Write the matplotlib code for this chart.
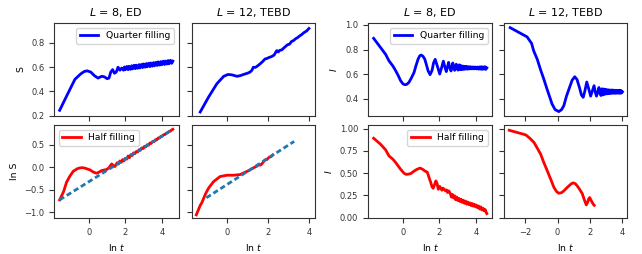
import matplotlib
matplotlib.use("Agg")
import matplotlib.pyplot as plt

# ---------------- data ----------------
# Panel A: S, quarter filling, L=8 ED
a_x = [-1.61, -1.2, -0.77, -0.45, -0.25, -0.1, 0.1, 0.3, 0.5, 0.7, 0.85, 1.0, 1.1, 1.2, 1.3, 1.4, 1.5, 1.6, 1.7,
       1.8, 1.9, 1.95, 2.0, 2.08, 2.15, 2.2, 2.28, 2.35, 2.4, 2.48, 2.55, 2.6, 2.68, 2.75, 2.8, 2.88, 2.95, 3.0,
       3.08, 3.15, 3.2, 3.28, 3.35, 3.4, 3.48, 3.55, 3.6, 3.68, 3.75, 3.8, 3.88, 3.95, 4.0, 4.08, 4.15, 4.2, 4.28,
       4.35, 4.4, 4.48, 4.55, 4.61]
a_y = [0.244, 0.37, 0.50, 0.545, 0.565, 0.57, 0.56, 0.53, 0.51, 0.525, 0.52, 0.505, 0.51, 0.56, 0.58, 0.55, 0.56, 0.60, 0.575,
       0.593, 0.575, 0.602, 0.579, 0.606, 0.58, 0.608, 0.582, 0.612, 0.586, 0.616, 0.588, 0.617, 0.591, 0.621, 0.594, 0.623, 0.597, 0.627,
       0.60, 0.63, 0.603, 0.633, 0.605, 0.635, 0.608, 0.638, 0.611, 0.64, 0.614, 0.644, 0.617, 0.646, 0.62, 0.65, 0.622, 0.651, 0.626,
       0.655, 0.628, 0.657, 0.632, 0.65]

# Panel B: S, quarter filling, L=12 TEBD
b_x = [-1.3, -0.89, -0.49, -0.16, 0.05, 0.24, 0.49, 0.65, 0.81, 1.0, 1.13, 1.22, 1.29, 1.38, 1.46, 1.6, 1.75, 1.86, 1.95,
       2.05, 2.18, 2.3, 2.43, 2.5, 2.58, 2.67, 2.75, 2.85, 2.95, 3.05, 3.16, 3.25, 3.35, 3.45, 3.56, 3.65, 3.75, 3.85, 3.92, 4.0]
b_y = [0.23, 0.354, 0.463, 0.524, 0.54, 0.537, 0.525, 0.53, 0.54, 0.55, 0.56, 0.575, 0.60, 0.598, 0.606, 0.625, 0.648, 0.668, 0.672,
       0.68, 0.688, 0.70, 0.737, 0.725, 0.74, 0.742, 0.755, 0.77, 0.785, 0.79, 0.814, 0.82, 0.835, 0.845, 0.86, 0.87, 0.885, 0.895, 0.905, 0.92]

# Panel C: ln S, half filling, L=8 ED
c_x = [-1.61, -1.4, -1.23, -1.05, -0.86, -0.65, -0.5, -0.35, -0.22, 0.06, 0.25, 0.42, 0.55, 0.7, 0.85, 0.97, 1.1, 1.25, 1.35, 1.43,
       1.55, 1.62, 1.7, 1.78, 1.85, 1.92, 2.0, 2.08, 2.15, 2.22, 2.3, 2.38, 2.45, 2.52, 2.6, 2.68, 2.75, 2.82, 2.9, 2.98,
       3.05, 3.12, 3.2, 3.28, 3.35, 3.42, 3.5, 3.58, 3.65, 3.72, 3.8, 3.88, 3.95, 4.02, 4.1, 4.18, 4.25, 4.32, 4.4, 4.48, 4.55, 4.61]
c_y = [-0.727, -0.55, -0.333, -0.2, -0.089, -0.035, -0.015, -0.01, -0.02, -0.06, -0.11, -0.133, -0.11, -0.074, -0.06, -0.052, -0.01, 0.074, 0.03, 0.016,
       0.10, 0.07, 0.14, 0.11, 0.17, 0.14, 0.2, 0.18, 0.25, 0.21, 0.28, 0.26, 0.32, 0.3, 0.35, 0.34, 0.39, 0.375, 0.43, 0.415,
       0.465, 0.45, 0.5, 0.49, 0.54, 0.53, 0.575, 0.57, 0.612, 0.607, 0.65, 0.65, 0.686, 0.688, 0.723, 0.728, 0.76, 0.765, 0.797, 0.805, 0.832, 0.845]
c_fit_x = [-1.61, 4.61]
c_fit_y = [-0.727, 0.843]

# Panel D: ln S, half filling, L=12 TEBD
d_x = [-1.49, -1.3, -1.21, -1.05, -0.9, -0.65, -0.33, 0.0, 0.32, 0.65, 0.89, 1.05, 1.21, 1.35, 1.46, 1.55, 1.62, 1.7, 1.78,
       1.86, 1.95, 2.05, 2.15, 2.23]
d_y = [-1.06, -0.85, -0.78, -0.6, -0.47, -0.32, -0.207, -0.178, -0.178, -0.163, -0.111, -0.08, -0.037, 0.0, 0.022, 0.06, 0.045, 0.07, 0.12,
       0.163, 0.17, 0.22, 0.235, 0.274]
d_fit_x = [-1.0, 3.28]
d_fit_y = [-0.68, 0.575]

# Panel E: I, quarter filling, L=8 ED
e_x = [-1.61, -1.23, -0.95, -0.77, -0.55, -0.40, -0.25, -0.13, 0.0, 0.1, 0.2, 0.33, 0.47, 0.61, 0.72, 0.83, 0.92, 1.0, 1.1, 1.2,
       1.3, 1.38, 1.49, 1.6, 1.68, 1.77, 1.9, 2.02, 2.12, 2.22, 2.3, 2.38, 2.45, 2.51, 2.58, 2.64, 2.69, 2.74, 2.79, 2.84, 2.89,
       2.93, 2.98, 3.02, 3.06, 3.1, 3.15, 3.2, 3.25, 3.3, 3.35, 3.4, 3.45, 3.5, 3.55, 3.6, 3.65, 3.7, 3.75, 3.8, 3.85, 3.9,
       3.95, 4.0, 4.05, 4.1, 4.15, 4.2, 4.25, 4.3, 4.35, 4.4, 4.45, 4.5, 4.55, 4.61]
e_y = [0.891, 0.816, 0.76, 0.708, 0.665, 0.627, 0.585, 0.546, 0.52, 0.513, 0.515, 0.532, 0.57, 0.613, 0.67, 0.721, 0.748, 0.755, 0.745, 0.721,
       0.67, 0.627, 0.595, 0.63, 0.69, 0.72, 0.66, 0.60, 0.65, 0.705, 0.66, 0.62, 0.66, 0.695, 0.65, 0.625, 0.655, 0.69, 0.655, 0.63, 0.66,
       0.68, 0.65, 0.632, 0.66, 0.675, 0.635, 0.668, 0.637, 0.665, 0.638, 0.663, 0.64, 0.662, 0.64, 0.66, 0.641, 0.66, 0.642, 0.658, 0.642, 0.658,
       0.642, 0.657, 0.642, 0.657, 0.64, 0.658, 0.64, 0.66, 0.638, 0.658, 0.64, 0.66, 0.638, 0.65]

# Panel F: I, quarter filling, L=12 TEBD
f_x = [-2.92, -1.88, -1.6, -1.47, -1.25, -1.06, -0.85, -0.65, -0.45, -0.34, -0.15, 0.08, 0.25, 0.39, 0.55, 0.74, 0.9, 1.06, 1.2,
       1.35, 1.47, 1.58, 1.68, 1.8, 1.92, 2.04, 2.14, 2.25, 2.33, 2.4, 2.47, 2.55, 2.62, 2.68, 2.74, 2.8, 2.86, 2.92, 2.98, 3.04,
       3.1, 3.15, 3.2, 3.25, 3.3, 3.35, 3.4, 3.45, 3.5, 3.55, 3.6, 3.65, 3.7, 3.75, 3.8, 3.85, 3.9, 3.95, 4.0]
f_y = [0.978, 0.903, 0.85, 0.789, 0.72, 0.64, 0.56, 0.478, 0.40, 0.356, 0.31, 0.294, 0.31, 0.343, 0.42, 0.491, 0.55, 0.578, 0.555,
       0.49, 0.43, 0.41, 0.46, 0.535, 0.48, 0.42, 0.46, 0.505, 0.45, 0.42, 0.45, 0.49, 0.44, 0.425, 0.48, 0.43, 0.478, 0.435, 0.475, 0.438,
       0.472, 0.44, 0.47, 0.442, 0.47, 0.443, 0.47, 0.444, 0.468, 0.443, 0.468, 0.444, 0.467, 0.444, 0.468, 0.443, 0.467, 0.445, 0.455]

# Panel G: I, half filling, L=8 ED
g_x = [-1.61, -1.23, -0.95, -0.77, -0.55, -0.40, -0.13, 0.05, 0.17, 0.3, 0.43, 0.6, 0.75, 0.94, 1.1, 1.2, 1.34, 1.45, 1.53, 1.6,
       1.66, 1.72, 1.81, 1.88, 1.94, 2.02, 2.08, 2.14, 2.2, 2.27, 2.33, 2.4, 2.45, 2.52, 2.6, 2.66, 2.72, 2.78, 2.84, 2.9, 2.96,
       3.02, 3.08, 3.14, 3.2, 3.26, 3.32, 3.38, 3.44, 3.5, 3.56, 3.62, 3.68, 3.74, 3.8, 3.86, 3.92, 3.98, 4.04, 4.1, 4.16, 4.22,
       4.28, 4.34, 4.4, 4.46, 4.52, 4.57, 4.61]
g_y = [0.891, 0.824, 0.76, 0.693, 0.655, 0.618, 0.543, 0.50, 0.485, 0.488, 0.494, 0.52, 0.54, 0.556, 0.54, 0.524, 0.509, 0.44, 0.393, 0.345,
       0.329, 0.36, 0.412, 0.38, 0.318, 0.35, 0.33, 0.307, 0.33, 0.318, 0.3, 0.31, 0.281, 0.3, 0.27, 0.23, 0.26, 0.22, 0.245, 0.2, 0.23,
       0.19, 0.215, 0.18, 0.205, 0.17, 0.195, 0.16, 0.185, 0.15, 0.175, 0.145, 0.165, 0.135, 0.158, 0.128, 0.15, 0.12, 0.14, 0.11, 0.13, 0.095,
       0.12, 0.085, 0.105, 0.075, 0.09, 0.06, 0.045]

# Panel H: I, half filling, L=12 TEBD
h_x = [-2.98, -1.96, -1.7, -1.45, -1.25, -1.04, -0.85, -0.63, -0.42, -0.22, -0.05, 0.08, 0.25, 0.39, 0.55, 0.7, 0.85, 0.97, 1.1,
       1.21, 1.35, 1.52, 1.65, 1.77, 1.85, 1.92, 1.98, 2.05, 2.14, 2.2, 2.26]
h_y = [0.981, 0.929, 0.89, 0.843, 0.78, 0.712, 0.62, 0.524, 0.43, 0.337, 0.29, 0.273, 0.28, 0.30, 0.33, 0.356, 0.38, 0.39, 0.38,
       0.356, 0.32, 0.27, 0.2, 0.142, 0.17, 0.21, 0.225, 0.2, 0.169, 0.15, 0.138]

titles = ["$L$ = 8, ED", "$L$ = 12, TEBD"]
legend_quarter = "Quarter filling"
legend_half = "Half filling"

# ---------------- figure ----------------
plt.rcParams.update({
    "font.family": "DejaVu Sans",
    "axes.edgecolor": "0.2",
    "xtick.color": "0.2",
    "ytick.color": "0.2",
    "xtick.labelsize": 6,
    "ytick.labelsize": 6,
    "axes.linewidth": 0.8,
})

W, H = 642, 254
fig = plt.figure(figsize=(W / 100, H / 100), dpi=100)

def box(x0, x1, y0, y1):
    return [x0 / W, 1 - y1 / H, (x1 - x0) / W, (y1 - y0) / H]

cols = [(54, 178.5), (192, 314.5), (368, 492.5), (504, 627)]
rows = [(23, 116), (125, 218)]

axes = {}
for r, (y0, y1) in enumerate(rows):
    for c, (x0, x1) in enumerate(cols):
        axes[(r, c)] = fig.add_axes(box(x0, x1, y0, y1))

lw = 2.0
blue = "#0000ff"
red = "#ff0000"
dash = (0, (1.9, 1.1))

axA, axB, axE, axF = axes[(0, 0)], axes[(0, 1)], axes[(0, 2)], axes[(0, 3)]
axC, axD, axG, axH = axes[(1, 0)], axes[(1, 1)], axes[(1, 2)], axes[(1, 3)]

axA.plot(a_x, a_y, color=blue, lw=lw, label=legend_quarter)
axB.plot(b_x, b_y, color=blue, lw=lw)
axC.plot(c_x, c_y, color=red, lw=lw, label=legend_half)
axC.plot(c_fit_x, c_fit_y, color="#1f77b4", lw=lw, ls=dash)
axD.plot(d_x, d_y, color=red, lw=lw)
axD.plot(d_fit_x, d_fit_y, color="#1f77b4", lw=lw, ls=dash)
axE.plot(e_x, e_y, color=blue, lw=lw, label=legend_quarter)
axF.plot(f_x, f_y, color=blue, lw=lw)
axG.plot(g_x, g_y, color=red, lw=lw, label=legend_half)
axH.plot(h_x, h_y, color=red, lw=lw)

# limits
for ax in (axA, axC, axE, axG):
    ax.set_xlim(-1.92, 4.92)
for ax in (axB, axD):
    ax.set_xlim(-1.7, 4.27)
for ax in (axF, axH):
    ax.set_xlim(-3.3, 4.28)
for ax in (axA, axB):
    ax.set_ylim(0.197, 0.965)
for ax in (axC, axD):
    ax.set_ylim(-1.13, 0.94)
for ax in (axE, axF):
    ax.set_ylim(0.258, 1.016)
for ax in (axG, axH):
    ax.set_ylim(-0.005, 1.04)

for ax in (axA, axB):
    ax.set_yticks([0.2, 0.4, 0.6, 0.8])
for ax in (axC, axD):
    ax.set_yticks([-1.0, -0.5, 0.0, 0.5])
for ax in (axE, axF):
    ax.set_yticks([0.4, 0.6, 0.8, 1.0])
for ax in (axG, axH):
    ax.set_yticks([0.0, 0.25, 0.5, 0.75, 1.0])
for ax in (axA, axC, axE, axG, axB, axD):
    ax.set_xticks([0, 2, 4])
for ax in (axF, axH):
    ax.set_xticks([-2, 0, 2, 4])

# tick labels visibility
for ax in (axA, axB, axE, axF):
    ax.tick_params(labelbottom=False)
for ax in (axB, axD, axF, axH):
    ax.tick_params(labelleft=False)

# titles and labels
tfs = 8
lfs = 6.7
axA.set_title(titles[0], fontsize=tfs, pad=5)
axB.set_title(titles[1], fontsize=tfs, pad=5)
axE.set_title(titles[0], fontsize=tfs, pad=5)
axF.set_title(titles[1], fontsize=tfs, pad=5)

axA.set_ylabel("S", fontsize=lfs)
axC.set_ylabel("ln S", fontsize=lfs)
axE.set_ylabel("$I$", fontsize=lfs)
axG.set_ylabel("$I$", fontsize=lfs)
for ax in (axC, axD, axG, axH):
    ax.set_xlabel("ln $t$", fontsize=lfs)

axA.legend(loc="upper right", fontsize=lfs)
axC.legend(loc="upper left", fontsize=lfs)
axE.legend(loc="upper right", fontsize=lfs)
axG.legend(loc="upper right", fontsize=lfs)

fig.savefig("out.png", dpi=100)
